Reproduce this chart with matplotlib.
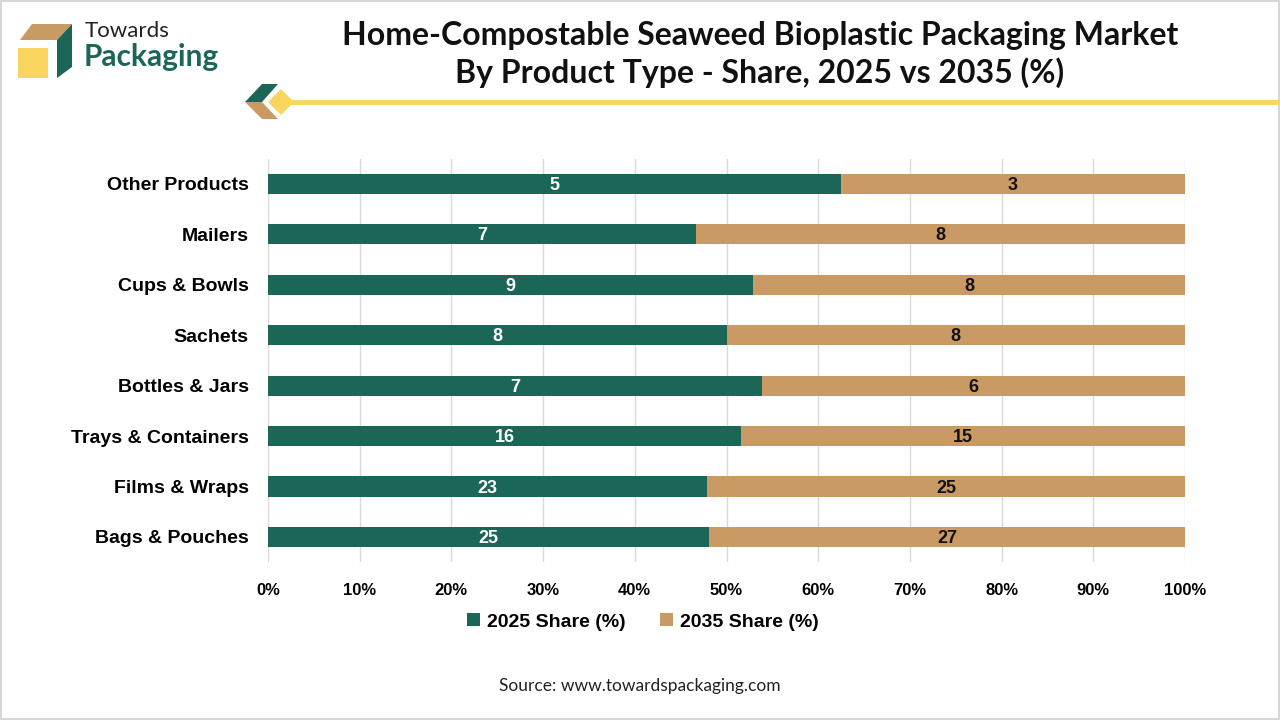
import matplotlib
matplotlib.use("Agg")
import matplotlib.pyplot as plt
from matplotlib.patches import Polygon, Rectangle
import numpy as np

categories = ["Bags & Pouches", "Films & Wraps", "Trays & Containers", "Bottles & Jars",
              "Sachets", "Cups & Bowls", "Mailers", "Other Products"]
share_2025 = [25, 23, 16, 7, 8, 9, 7, 5]
share_2035 = [27, 25, 15, 6, 8, 8, 8, 3]
series_names = ["2025 Share (%)", "2035 Share (%)"]
x_ticks = [0, 10, 20, 30, 40, 50, 60, 70, 80, 90, 100]

GREEN = "#1B6657"
TAN = "#C99A64"
YELLOW = "#F8D55E"

W, H = 1280, 720
fig = plt.figure(figsize=(12.8, 7.2), dpi=100)
fig.patch.set_facecolor("white")

def px(x, y):
    return (x / W, 1 - y / H)

# border
fig.patches.append(Rectangle((0.0008, 0.001), 0.9984, 0.997, transform=fig.transFigure,
                             fill=False, edgecolor="#D0D0D0", linewidth=1.2))

# logo
def poly(pts, color):
    fig.patches.append(Polygon([px(*p) for p in pts], closed=True, transform=fig.transFigure,
                               facecolor=color, edgecolor="none"))

poly([(20, 40), (32, 24), (72, 24), (57, 40)], TAN)
poly([(18, 48), (48, 48), (48, 78), (18, 78)], YELLOW)
poly([(57, 40), (72, 24), (72, 67), (57, 78)], GREEN)
fig.text(*px(85, 31), "Towards", fontsize=16, color="#222222", family="Lato",
         va="center", ha="left")
fig.text(*px(84, 57), "Packaging", fontsize=21.5, color=GREEN, family="Lato", fontweight="bold",
         va="center", ha="left")

# decoration
poly([(245, 102), (262, 84), (278, 84), (262, 102)], GREEN)
poly([(245, 102), (262, 102), (278, 119), (262, 119)], TAN)
poly([(268, 102), (281, 89), (294, 102), (281, 115)], YELLOW)
fig.lines.append(plt.Line2D([290 / W, 1.0], [1 - 102 / H] * 2, transform=fig.transFigure,
                            color=YELLOW, linewidth=3.5))

# title
fig.text(*px(760, 35), "Home-Compostable Seaweed Bioplastic Packaging Market",
         fontsize=23, fontweight="bold", family="Lato", ha="center", va="center", color="#111111")
fig.text(*px(760, 73), "By Product Type - Share, 2025 vs 2035 (%)",
         fontsize=23, fontweight="bold", family="Lato", ha="center", va="center", color="#111111")

# axes
ax = fig.add_axes([268 / W, 0.2192, (1185 - 268) / W, 0.5603])
a = np.array(share_2025, dtype=float)
b = np.array(share_2035, dtype=float)
tot = a + b
pa = a / tot * 100
pb = b / tot * 100
y = np.arange(len(categories))
h = 0.4
ax.set_axisbelow(True)
ax.grid(axis="x", color="#D9D9D9", linewidth=1.0)
bars_a = ax.barh(y, pa, height=h, color=GREEN, label=series_names[0], zorder=2)
bars_b = ax.barh(y, pb, left=pa, height=h, color=TAN, label=series_names[1], zorder=2)
for i in range(len(categories)):
    ax.text(pa[i] / 2, y[i] - 0.03, f"{share_2025[i]}", ha="center", va="center", color="white",
            fontsize=13, fontweight="bold", family="Liberation Sans", zorder=3)
    ax.text(pa[i] + pb[i] / 2, y[i] - 0.03, f"{share_2035[i]}", ha="center", va="center", color="#111111",
            fontsize=13, fontweight="bold", family="Liberation Sans", zorder=3)

ax.set_xlim(0, 100)
ax.set_ylim(-0.5, len(categories) - 0.5)
ax.set_xticks(x_ticks)
ax.set_xticklabels([f"{t}%" for t in x_ticks], fontsize=12, fontweight="bold", family="Liberation Sans")
ax.set_yticks(y)
ax.set_yticklabels(categories, fontsize=14, fontweight="bold", family="Liberation Sans")
ax.tick_params(axis="both", length=0)
ax.tick_params(axis="x", pad=15)
ax.tick_params(axis="y", pad=14)
for s in ax.spines.values():
    s.set_visible(False)

leg = fig.legend(handles=[bars_a, bars_b], labels=series_names, loc="center",
                 bbox_to_anchor=(643 / W, 1 - 622 / H), ncol=2, frameon=False,
                 prop={"family": "Liberation Sans", "weight": "bold", "size": 14},
                 handlelength=0.65, handleheight=0.65, handletextpad=0.35, columnspacing=1.8)

fig.text(*px(640, 686), "Source: www.towardspackaging.com", fontsize=12.5, family="Lato",
         ha="center", va="center", color="#222222")

fig.savefig("out.png", dpi=100)
